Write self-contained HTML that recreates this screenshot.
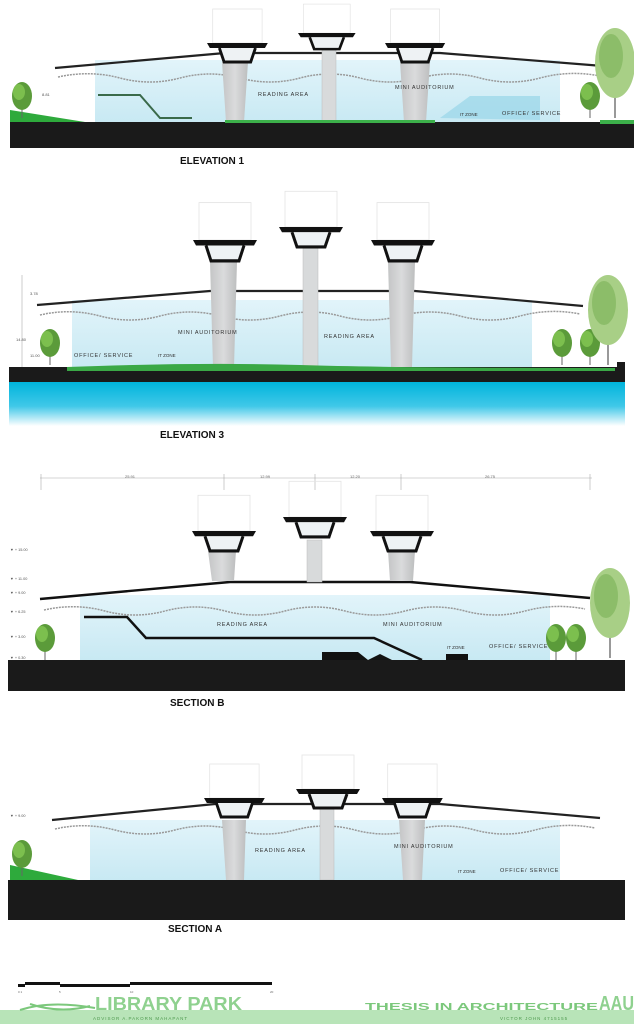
<!DOCTYPE html>
<html><head><meta charset="utf-8"><style>
html,body{margin:0;padding:0;background:#fff;}
svg{display:block}
text{font-family:"Liberation Sans",sans-serif}
</style></head><body>
<svg width="634" height="1024" viewBox="0 0 634 1024" xmlns="http://www.w3.org/2000/svg">
<defs>
<linearGradient id="gl" x1="0" y1="0" x2="0" y2="1"><stop offset="0" stop-color="#e2f4fa"/><stop offset="1" stop-color="#c8e9f3"/></linearGradient>
<linearGradient id="wt" x1="0" y1="0" x2="0" y2="1"><stop offset="0" stop-color="#00b4dc"/><stop offset="0.55" stop-color="#40c8e8"/><stop offset="1" stop-color="#ffffff"/></linearGradient>
<linearGradient id="pi" x1="0" y1="0" x2="1" y2="0"><stop offset="0" stop-color="#c4c5c6"/><stop offset="0.5" stop-color="#dadbdc"/><stop offset="1" stop-color="#bdbebf"/></linearGradient>
<g id="deck">
<rect x="6" y="-34" width="52" height="34" fill="none" stroke="#e4e4e4" stroke-width="0.8"/>
<path d="M0,0 H64 L61,5 H3 Z" fill="#111"/>
<path d="M13,5 L18,19 H46 L51,5" fill="#eef2f4" stroke="#111" stroke-width="3"/>
</g>
<g id="tree">
<line x1="0" y1="0" x2="0" y2="-14" stroke="#666" stroke-width="1"/>
<ellipse cx="0" cy="-22" rx="10" ry="14" fill="#5b9b3a"/>
<ellipse cx="-3" cy="-26" rx="6" ry="8" fill="#7cbf4e"/>
</g>
<g id="bigtree">
<line x1="0" y1="0" x2="0" y2="-40" stroke="#777" stroke-width="1.5"/>
<ellipse cx="0" cy="-55" rx="20" ry="35" fill="#a8cf86"/>
<ellipse cx="-4" cy="-62" rx="12" ry="22" fill="#8cbd69"/>
</g>
</defs>

<!-- ===== ELEVATION 1 ===== -->
<rect x="95" y="60" width="465" height="62" fill="url(#gl)"/>
<path d="M55,68 L225,53 L440,53 L603,66" fill="none" stroke="#222" stroke-width="2.2"/>
<path d="M58,77 Q90,70 120,78 T180,78 T240,78 T300,78 T360,78 T420,78 T480,78 T540,78 T600,76" fill="none" stroke="#999" stroke-width="1.5" stroke-dasharray="2 1"/>
<path d="M98,95 H140 L160,118 H192" fill="none" stroke="#3a6a4a" stroke-width="2"/>
<path d="M440,118 L470,96 H540 V120 Z" fill="#9fd8ea" opacity="0.8"/>
<path d="M222,62 H248 L244,122 H226 Z" fill="url(#pi)"/>
<path d="M400,62 H430 L426,122 H404 Z" fill="url(#pi)"/>
<rect x="322" y="46" width="14" height="76" fill="#d8dadb" stroke="#bbb" stroke-width="0.5"/>
<use href="#deck" transform="translate(207,43) scale(0.95,1)"/>
<use href="#deck" transform="translate(298,33) scale(0.9,0.85)"/>
<use href="#deck" transform="translate(385,43) scale(0.94,1)"/>
<rect x="10" y="122" width="624" height="26" fill="#1a1a1a"/>
<path d="M10,110 L85,122 H10 Z" fill="#2eaa3c"/>
<rect x="225" y="120" width="210" height="3" fill="#3cb04a"/>
<rect x="600" y="120" width="34" height="4" fill="#3cb04a"/>
<use href="#tree" transform="translate(22,118)"/>
<use href="#tree" transform="translate(590,118)"/>
<use href="#bigtree" transform="translate(615,118)"/>
<text x="258" y="96" font-size="5.5" fill="#333" letter-spacing="0.8">READING AREA</text>
<text x="395" y="89" font-size="5.5" fill="#333" letter-spacing="0.8">MINI AUDITORIUM</text>
<text x="460" y="116" font-size="4.5" fill="#333">IT ZONE</text>
<text x="502" y="115" font-size="5.5" fill="#333" letter-spacing="0.8">OFFICE/ SERVICE</text>
<text x="42" y="96" font-size="4" fill="#555">8.81</text>
<text x="180" y="164" font-size="10" font-weight="bold" fill="#111">ELEVATION 1</text>

<!-- ===== ELEVATION 3 ===== -->
<rect x="72" y="300" width="460" height="68" fill="url(#gl)"/>
<path d="M37,305 L210,291 L415,291 L583,306" fill="none" stroke="#222" stroke-width="2.2"/>
<path d="M40,315 Q70,308 100,316 T160,316 T220,316 T280,316 T340,316 T400,316 T460,316 T520,316 T580,314" fill="none" stroke="#999" stroke-width="1.5" stroke-dasharray="2 1"/>
<path d="M210,262 H237 L234,367 H213 Z" fill="url(#pi)"/>
<path d="M388,262 H415 L412,367 H391 Z" fill="url(#pi)"/>
<rect x="303" y="248" width="15" height="120" fill="#d8dadb" stroke="#bbb" stroke-width="0.5"/>
<use href="#deck" transform="translate(193,240) scale(1.0,1.1)"/>
<use href="#deck" transform="translate(279,227) scale(1.0,1.05)"/>
<use href="#deck" transform="translate(371,240) scale(1.0,1.1)"/>
<rect x="9" y="367" width="616" height="15" fill="#1a1a1a"/>
<rect x="617" y="362" width="8" height="6" fill="#1a1a1a"/>
<path d="M67,367 Q200,362 300,365 Q400,368 615,368 V371 H67 Z" fill="#3aa846"/>
<rect x="9" y="382" width="616" height="44" fill="url(#wt)"/>
<use href="#tree" transform="translate(50,365)"/>
<use href="#tree" transform="translate(562,365)"/>
<use href="#tree" transform="translate(590,365)"/>
<use href="#bigtree" transform="translate(608,365)"/>
<text x="178" y="334" font-size="5.5" fill="#333" letter-spacing="0.8">MINI AUDITORIUM</text>
<text x="324" y="338" font-size="5.5" fill="#333" letter-spacing="0.8">READING AREA</text>
<text x="74" y="357" font-size="5.5" fill="#333" letter-spacing="0.8">OFFICE/ SERVICE</text>
<text x="158" y="357" font-size="4.5" fill="#333">IT ZONE</text>
<line x1="22" y1="275" x2="22" y2="367" stroke="#999" stroke-width="0.5"/>
<text x="30" y="295" font-size="4" fill="#555">3.78</text>
<text x="16" y="341" font-size="4" fill="#555">14.80</text>
<text x="30" y="357" font-size="4" fill="#555">11.00</text>
<text x="160" y="438" font-size="10" font-weight="bold" fill="#111">ELEVATION 3</text>

<!-- ===== SECTION B ===== -->
<line x1="40" y1="478" x2="592" y2="478" stroke="#aaa" stroke-width="0.6"/>
<g stroke="#aaa" stroke-width="0.6"><line x1="41" y1="474" x2="41" y2="490"/><line x1="224" y1="474" x2="224" y2="490"/><line x1="315" y1="474" x2="315" y2="490"/><line x1="401" y1="474" x2="401" y2="490"/><line x1="590" y1="474" x2="590" y2="490"/></g>
<g font-size="4" fill="#666"><text x="125" y="478">25.91</text><text x="260" y="478">12.99</text><text x="350" y="478">12.20</text><text x="485" y="478">26.75</text></g>
<rect x="80" y="595" width="470" height="65" fill="url(#gl)"/>
<path d="M40,599 L230,582 L410,582 L590,598" fill="none" stroke="#111" stroke-width="2.4"/>
<path d="M44,610 Q75,603 105,611 T165,611 T225,611 T285,611 T345,611 T405,611 T465,611 T525,611 T585,609" fill="none" stroke="#999" stroke-width="1.5" stroke-dasharray="2 1"/>
<path d="M208,551 H236 L234,581 H212 Z" fill="url(#pi)"/>
<path d="M388,551 H415 L413,581 H390 Z" fill="url(#pi)"/>
<rect x="307" y="540" width="15" height="42" fill="#d8dadb" stroke="#bbb" stroke-width="0.5"/>
<use href="#deck" transform="translate(192,531) scale(1.0,1.05)"/>
<use href="#deck" transform="translate(283,517) scale(1.0,1.05)"/>
<use href="#deck" transform="translate(370,531) scale(1.0,1.05)"/>
<path d="M84,617 H127 L146,638 H374 L422,660" fill="none" stroke="#111" stroke-width="2.5"/>
<path d="M322,652 H358 L368,660 L380,654 L392,660 H322 Z" fill="#111"/>
<path d="M446,660 V654 H468 V660 Z" fill="#111"/>
<rect x="8" y="660" width="617" height="31" fill="#1a1a1a"/>
<use href="#tree" transform="translate(45,660)"/>
<use href="#tree" transform="translate(556,660)"/>
<use href="#tree" transform="translate(576,660)"/>
<use href="#bigtree" transform="translate(610,658)"/>
<text x="217" y="626" font-size="5.5" fill="#333" letter-spacing="0.8">READING AREA</text>
<text x="383" y="626" font-size="5.5" fill="#333" letter-spacing="0.8">MINI AUDITORIUM</text>
<text x="447" y="649" font-size="4.5" fill="#333">IT ZONE</text>
<text x="489" y="648" font-size="5.5" fill="#333" letter-spacing="0.8">OFFICE/ SERVICE</text>
<g font-size="3.8" fill="#555"><text x="10" y="551">▼ + 15.00</text><text x="10" y="580">▼ + 11.00</text><text x="10" y="594">▼ + 9.00</text><text x="10" y="613">▼ + 6.25</text><text x="10" y="638">▼ + 3.00</text><text x="10" y="659">▼ + 0.30</text></g>
<text x="170" y="706" font-size="10" font-weight="bold" fill="#111">SECTION B</text>

<!-- ===== SECTION A ===== -->
<rect x="90" y="820" width="470" height="60" fill="url(#gl)"/>
<path d="M52,820 L215,804 L440,804 L600,818" fill="none" stroke="#222" stroke-width="2.2"/>
<path d="M55,829 Q85,822 115,830 T175,830 T235,830 T295,830 T355,830 T415,830 T475,830 T535,830 T595,828" fill="none" stroke="#999" stroke-width="1.5" stroke-dasharray="2 1"/>
<path d="M222,820 H246 L244,880 H226 Z" fill="url(#pi)"/>
<path d="M399,820 H425 L422,880 H403 Z" fill="url(#pi)"/>
<rect x="320" y="806" width="14" height="74" fill="#d8dadb" stroke="#bbb" stroke-width="0.5"/>
<use href="#deck" transform="translate(204,798) scale(0.95,1)"/>
<use href="#deck" transform="translate(296,789) scale(1.0,1.0)"/>
<use href="#deck" transform="translate(382,798) scale(0.95,1)"/>
<rect x="8" y="880" width="617" height="40" fill="#1a1a1a"/>
<path d="M10,865 L78,880 H10 Z" fill="#2eaa3c"/>
<use href="#tree" transform="translate(22,876)"/>
<text x="255" y="852" font-size="5.5" fill="#333" letter-spacing="0.8">READING AREA</text>
<text x="394" y="848" font-size="5.5" fill="#333" letter-spacing="0.8">MINI AUDITORIUM</text>
<text x="458" y="873" font-size="4.5" fill="#333">IT ZONE</text>
<text x="500" y="872" font-size="5.5" fill="#333" letter-spacing="0.8">OFFICE/ SERVICE</text>
<text x="10" y="817" font-size="3.8" fill="#555">▼ + 9.00</text>
<text x="168" y="932" font-size="10" font-weight="bold" fill="#111">SECTION A</text>

<!-- ===== FOOTER ===== -->
<rect x="18" y="984" width="7" height="3" fill="#111"/>
<rect x="25" y="982" width="35" height="3" fill="#111"/>
<rect x="60" y="984" width="70" height="3" fill="#111"/>
<rect x="130" y="982" width="142" height="3" fill="#111"/>
<g font-size="3" fill="#666"><text x="18" y="993">0 1</text><text x="59" y="993">5</text><text x="130" y="993">10</text><text x="270" y="993">20</text></g>
<rect x="0" y="1010" width="634" height="14" fill="#b8e4b8"/>
<path d="M20,1010 Q50,1000 95,1008 M30,1004 Q60,1014 90,1006" fill="none" stroke="#7cc87c" stroke-width="2"/>
<text x="95" y="1010" font-size="18" font-weight="bold" fill="#8fd18f" textLength="147" lengthAdjust="spacingAndGlyphs">LIBRARY PARK</text>
<text x="93" y="1020" font-size="4.5" fill="#4f9a4f" letter-spacing="1">ADVISOR   A.PAKORN MAHAPANT</text>
<text x="365" y="1010" font-size="10" font-weight="bold" fill="#7cc87c" textLength="233" lengthAdjust="spacingAndGlyphs">THESIS IN ARCHITECTURE</text>
<text x="599" y="1010" font-size="20" font-weight="bold" fill="#8fd18f" textLength="35" lengthAdjust="spacingAndGlyphs">AAU</text>
<text x="500" y="1020" font-size="4.5" fill="#4f9a4f" letter-spacing="1">VICTOR JOHN 4715155</text>
</svg>
</body></html>
